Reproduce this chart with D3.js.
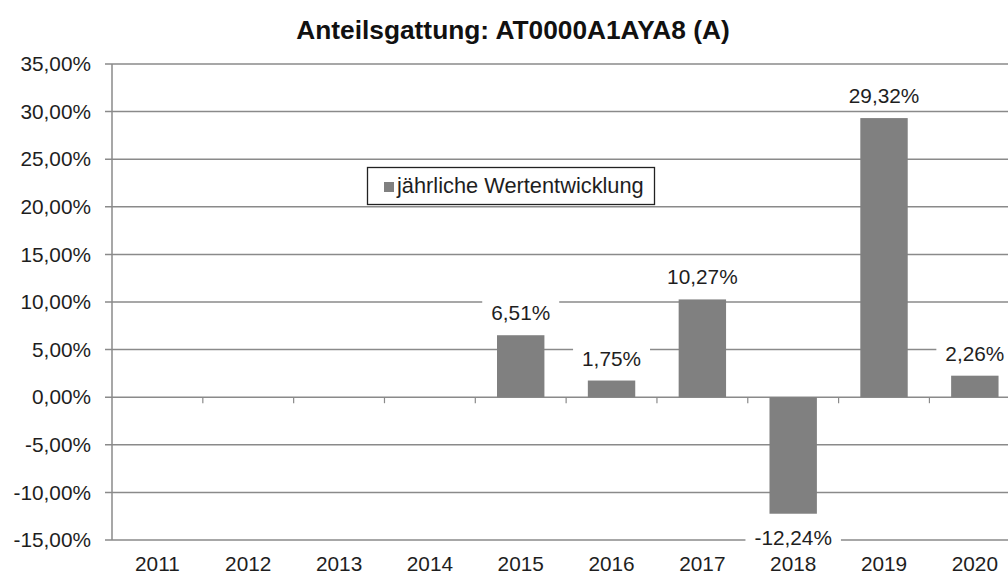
<!DOCTYPE html>
<html>
<head>
<meta charset="utf-8">
<script src="https://cdn.jsdelivr.net/npm/d3@7"></script>
<style>
  html, body { margin: 0; padding: 0; background: #fff; }
  svg { display: block; font-family: "Liberation Sans", Arial, sans-serif; }
</style>
</head>
<body>
<svg id="chart" width="1008" height="574"></svg>
<script>
const titleText = "Anteilsgattung: AT0000A1AYA8 (A)";
const seriesName = "jährliche Wertentwicklung";
const years = ["2011", "2012", "2013", "2014", "2015", "2016", "2017", "2018", "2019", "2020"];
const values = [null, null, null, null, 6.51, 1.75, 10.27, -12.24, 29.32, 2.26];
const yTicks = [-15, -10, -5, 0, 5, 10, 15, 20, 25, 30, 35];

const locale = d3.formatLocale({ decimal: ",", thousands: ".", grouping: [3], currency: ["", "€"], minus: "-" });
const fmt2 = locale.format(".2f");
const pct = v => fmt2(v) + "%";

const svg = d3.select("#chart");
const gridColor = "#8a8a8a";
const barColor = "#808080";
const textColor = "#1e1e1e";

const plotLeft = 112, plotRight = 1020.25, plotTop = 64, plotBottom = 540;
const x = d3.scaleBand().domain(years).range([plotLeft, plotRight]).paddingInner(0.478).paddingOuter(0.239);
const y = d3.scaleLinear().domain([-15, 35]).range([plotBottom, plotTop]);
const step = x.step();

// title
svg.append("text")
  .attr("x", 513).attr("y", 39)
  .attr("text-anchor", "middle")
  .attr("font-weight", "bold")
  .attr("font-size", 26.3)
  .attr("fill", "#111")
  .text(titleText);

// gridlines
svg.append("g").selectAll("line").data(yTicks).join("line")
  .attr("x1", plotLeft - 7).attr("x2", 1008)
  .attr("y1", d => y(d)).attr("y2", d => y(d))
  .attr("stroke", gridColor).attr("stroke-width", 1.5);

// y axis line
svg.append("line")
  .attr("x1", plotLeft).attr("x2", plotLeft)
  .attr("y1", y(35)).attr("y2", y(-15))
  .attr("stroke", gridColor).attr("stroke-width", 1.5);

// y tick labels
const yAxis = d3.axisLeft(y).tickValues(yTicks).tickFormat(pct).tickSize(0).tickPadding(21);
const gy = svg.append("g").attr("transform", `translate(${plotLeft},0)`).call(yAxis);
gy.select(".domain").remove();
gy.selectAll("text")
  .attr("font-size", 20.8)
  .attr("font-family", "Liberation Sans, Arial, sans-serif")
  .attr("fill", textColor);

// category boundary ticks on zero line
const bounds = d3.range(1, years.length + 1).map(i => plotLeft + i * step);
svg.append("g").selectAll("line").data(bounds).join("line")
  .attr("x1", d => d).attr("x2", d => d)
  .attr("y1", y(0)).attr("y2", y(0) + 6)
  .attr("stroke", gridColor).attr("stroke-width", 1.2);

// bars
const data = years.map((yr, i) => ({ yr, v: values[i] })).filter(d => d.v !== null);
svg.append("g").selectAll("rect").data(data).join("rect")
  .attr("x", d => x(d.yr))
  .attr("width", x.bandwidth())
  .attr("y", d => y(Math.max(0, d.v)))
  .attr("height", d => Math.abs(y(d.v) - y(0)))
  .attr("fill", barColor);

// x labels
const gx = svg.append("g").attr("transform", `translate(0,${y(0)})`)
  .call(d3.axisBottom(x).tickSize(0).tickPadding(0));
gx.select(".domain").remove();
gx.selectAll("text")
  .attr("dy", null)
  .attr("y", 571 - y(0))
  .attr("font-size", 20.8)
  .attr("font-family", "Liberation Sans, Arial, sans-serif")
  .attr("fill", textColor);

// data labels with white background
const lg = svg.append("g").selectAll("g").data(data).join("g")
  .attr("transform", d => {
    const cx = x(d.yr) + x.bandwidth() / 2;
    const by = d.v >= 0 ? y(d.v) - 15 : y(d.v) + 31;
    return `translate(${cx},${by})`;
  });
lg.append("rect").attr("class", "bg").attr("fill", "#fff");
lg.append("text")
  .attr("text-anchor", "middle")
  .attr("font-size", 20.8)
  .attr("fill", textColor)
  .text(d => pct(d.v));
lg.each(function () {
  const g = d3.select(this);
  const bb = g.select("text").node().getBBox();
  g.select("rect")
    .attr("x", bb.x - 9).attr("y", bb.y - 2)
    .attr("width", bb.width + 18).attr("height", bb.height + 4);
});

// legend
const leg = svg.append("g");
leg.append("rect")
  .attr("x", 367.5).attr("y", 167.5).attr("width", 287).attr("height", 37)
  .attr("fill", "#fff").attr("stroke", "#222").attr("stroke-width", 1.3);
leg.append("rect")
  .attr("x", 384).attr("y", 182).attr("width", 10).attr("height", 10)
  .attr("fill", barColor);
leg.append("text")
  .attr("x", 397).attr("y", 193)
  .attr("font-size", 21.8)
  .attr("fill", textColor)
  .text(seriesName);
</script>
</body>
</html>
